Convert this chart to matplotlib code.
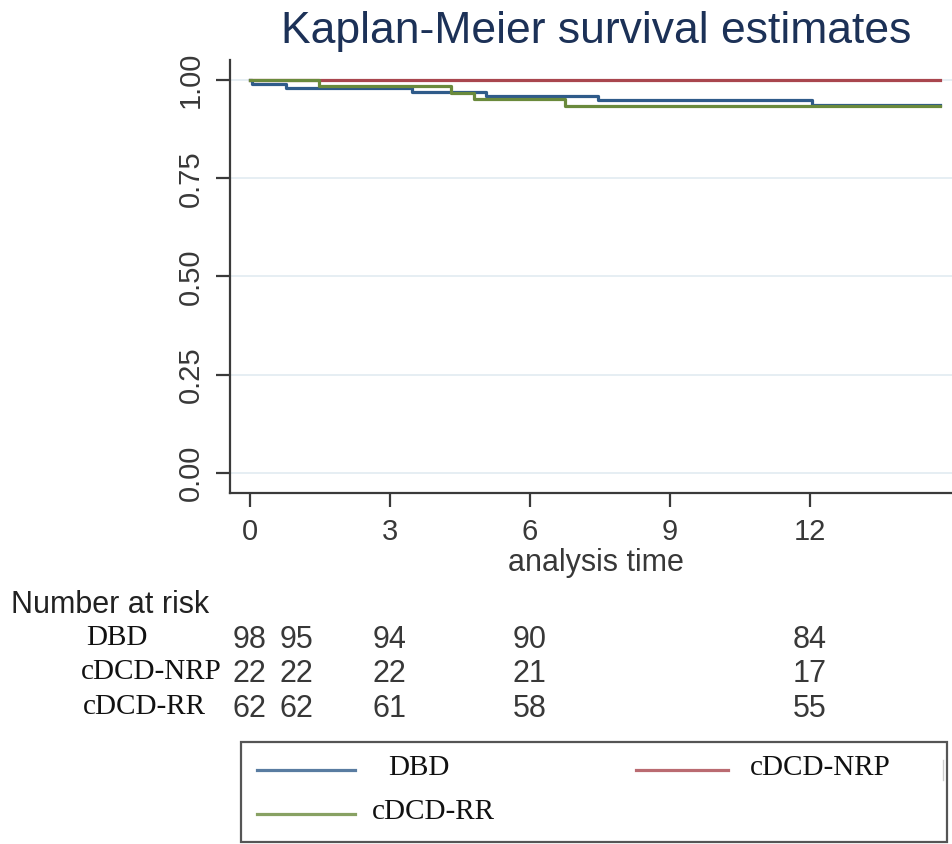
import matplotlib
matplotlib.use('Agg')
import matplotlib.pyplot as plt
import matplotlib.transforms as mtransforms
from matplotlib.lines import Line2D

# survival step data (months, estimate)
dbd_time = [0, 0.05, 0.77, 3.48, 5.07, 7.46, 12.05, 14.8]
dbd_surv = [1.0, 0.990, 0.980, 0.969, 0.959, 0.948, 0.936, 0.936]
nrp_time = [0, 14.8]
nrp_surv = [1.0, 1.0]
rr_time = [0, 1.48, 4.32, 4.80, 6.75, 14.8]
rr_surv = [1.0, 0.984, 0.968, 0.952, 0.935, 0.935]

groups = ['DBD', 'cDCD-NRP', 'cDCD-RR']
risk_times = [0, 1, 3, 6, 12]
risk_dbd = [98, 95, 94, 90, 84]
risk_nrp = [22, 22, 22, 21, 17]
risk_rr = [62, 62, 61, 58, 55]

x_ticks = [0, 3, 6, 9, 12]
y_ticks = [0.00, 0.25, 0.50, 0.75, 1.00]

blue = '#2f5b8a'
red = '#a9464e'
green = '#6a8a3c'
W, H = 952, 844

fig = plt.figure(figsize=(W / 100, H / 100), dpi=100)
ax = fig.add_axes([229.5 / W, 1 - 492.7 / H, 1 - 229.5 / W, (492.7 - 60) / H])

ax.step(dbd_time, dbd_surv, where='post', color=blue, lw=2.3, zorder=3)
ax.step(nrp_time, nrp_surv, where='post', color=red, lw=2.3, zorder=2)
ax.step(rr_time, rr_surv, where='post', color=green, lw=2.3, zorder=3)

ax.set_xlim(-0.43, 15.05)
ax.set_ylim(-0.051, 1.051)
ax.set_xticks(x_ticks)
ax.set_yticks(y_ticks)
ax.set_yticklabels(['%.2f' % v for v in y_ticks], rotation=90, va='center')
ax.yaxis.grid(True, color='#e4edf2', lw=1.3)
ax.set_axisbelow(True)
for side in ['top', 'right']:
    ax.spines[side].set_visible(False)
for side in ['left', 'bottom']:
    ax.spines[side].set_color('#3a3a3a')
    ax.spines[side].set_linewidth(1.6)
ax.tick_params(axis='both', colors='#3a3a3a', labelcolor='#383838',
               labelsize=21, length=10, width=1.6, pad=8)
for lab in ax.get_xticklabels() + ax.get_yticklabels():
    lab.set_family('Liberation Sans')

fig.text(596 / W, 1 - 32 / H, 'Kaplan-Meier survival estimates', ha='center',
         va='center', fontsize=32, color='#1c3157', family='Liberation Sans')
fig.text(596 / W, 1 - 563 / H, 'analysis time', ha='center', va='center',
         fontsize=22, color='#383838', family='Liberation Sans')

# number at risk table
fig.text(11 / W, 1 - 605 / H, 'Number at risk', ha='left', va='center',
         fontsize=22, color='#222222', family='Liberation Sans')
trans = mtransforms.blended_transform_factory(ax.transData, fig.transFigure)
row_y = [640, 674, 709]
label_x = [86, 81, 83]
for name, counts, yy, lx in zip(groups, [risk_dbd, risk_nrp, risk_rr], row_y, label_x):
    fig.text(lx / W, 1 - (yy - 2) / H, name, ha='left', va='center', fontsize=21,
             color='#111111', family='Liberation Serif')
    for t, n in zip(risk_times, counts):
        ax.text(t, 1 - yy / H, str(n), transform=trans, ha='center', va='center',
                fontsize=22, color='#383838', family='Liberation Sans', clip_on=False)

# legend box drawn in figure pixels
box = plt.Rectangle((240.7 / W, 1 - 842 / H), (947 - 240.7) / W, (842 - 742) / H,
                    transform=fig.transFigure, fill=False, ec='#555555', lw=1.6)
fig.add_artist(box)
legend_items = [
    (blue, 257, 355, 770, 'DBD', 388),
    (red, 636, 728, 770, 'cDCD-NRP', 750),
    (green, 257, 355, 814, 'cDCD-RR', 372),
]
for col, x0, x1, yy, name, tx in legend_items:
    fig.add_artist(Line2D([x0 / W, x1 / W], [1 - yy / H, 1 - yy / H],
                          transform=fig.transFigure, color=col, lw=2.3, alpha=0.8))
    fig.text(tx / W, 1 - (yy - 2) / H, name, ha='left', va='center', fontsize=21,
             color='#111111', family='Liberation Serif')
fig.add_artist(Line2D([943 / W, 943 / W], [1 - 760 / H, 1 - 780 / H],
                      transform=fig.transFigure, color='#cccccc', lw=1))

fig.savefig('out.png', dpi=100)
